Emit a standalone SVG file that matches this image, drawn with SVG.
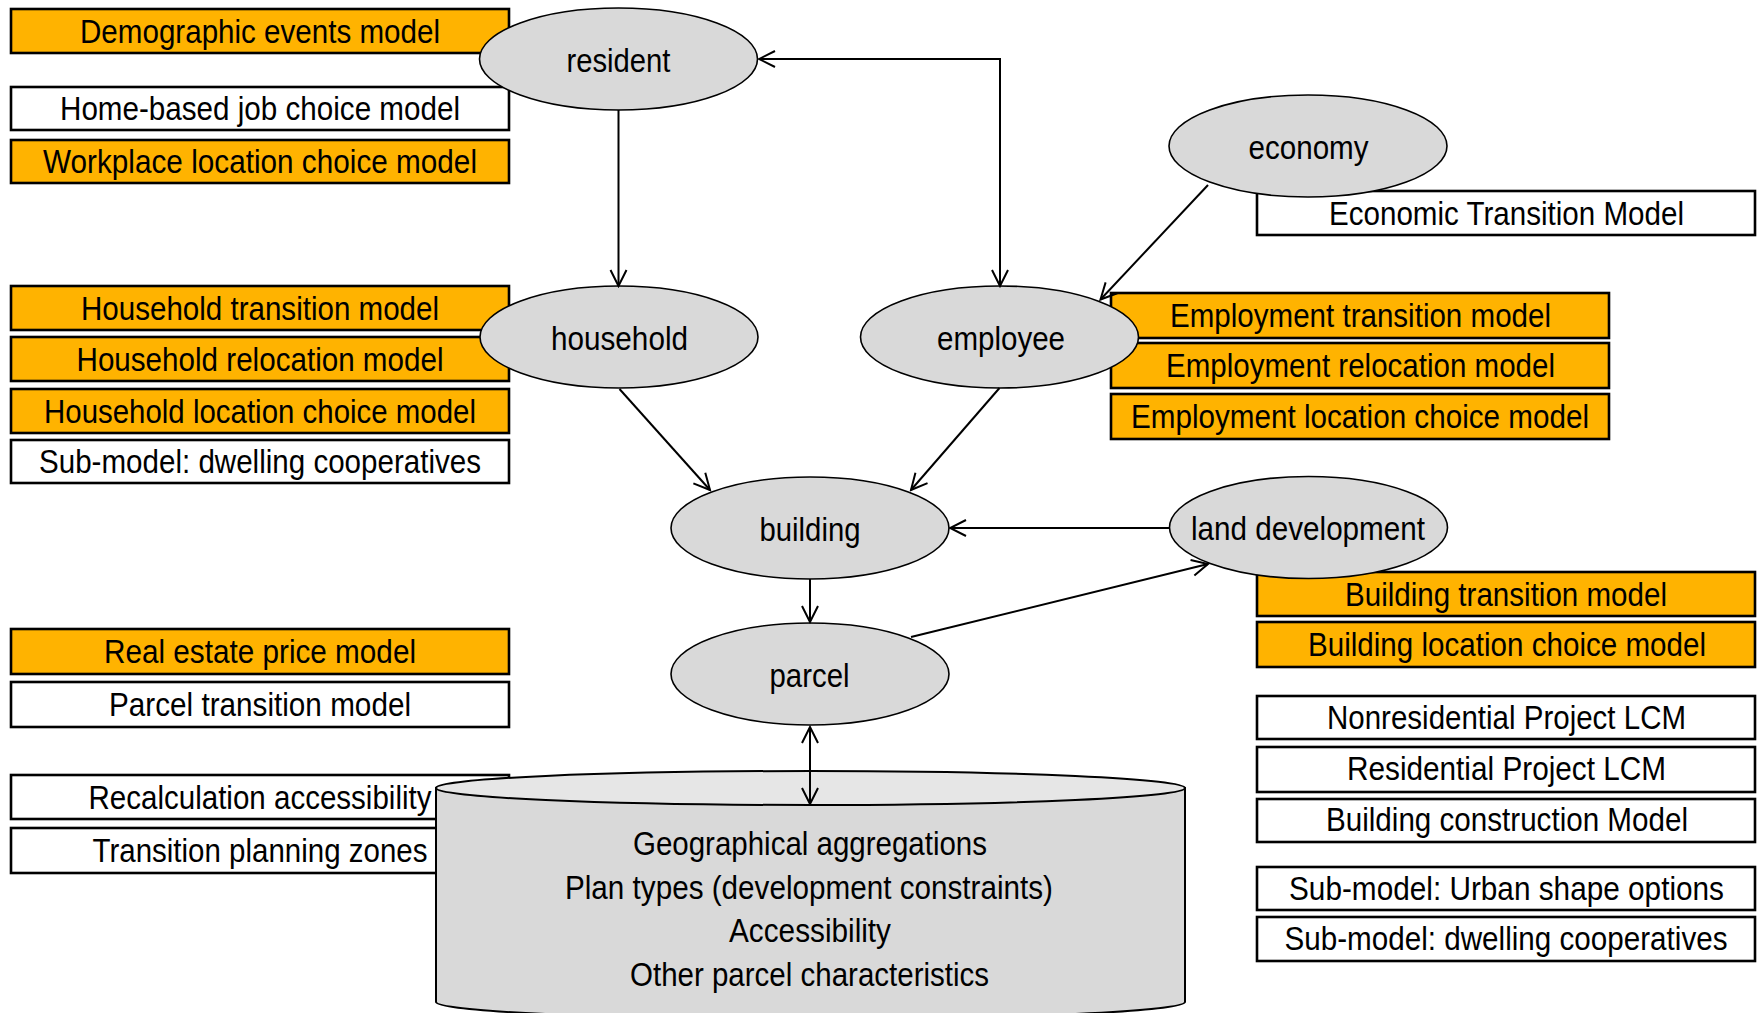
<svg xmlns="http://www.w3.org/2000/svg" width="1759" height="1013" viewBox="0 0 1759 1013">
<style>
text{font-family:"Liberation Sans",Arial,sans-serif;font-size:33px;fill:#000;text-anchor:middle}
.o{fill:#ffb300;stroke:#000;stroke-width:2.6}
.w{fill:#fff;stroke:#000;stroke-width:2.6}
.e{fill:#d9d9d9;stroke:#000;stroke-width:1.6}
.c{fill:none;stroke:#000;stroke-width:2}
</style>
<defs>
<marker id="a" markerUnits="userSpaceOnUse" viewBox="-18 -10 20 20" refX="0" refY="0" markerWidth="20" markerHeight="20" orient="auto-start-reverse">
<path d="M-16,-8 L0,0 L-16,8" fill="none" stroke="#000" stroke-width="2"/>
</marker>
</defs>
<rect width="1759" height="1013" fill="#fff"/>

<g id="boxes-left">
<g id="b-demographic"><rect class="o" x="11" y="9" width="498" height="44"/><text x="260" y="43" textLength="360" lengthAdjust="spacingAndGlyphs">Demographic events model</text></g>
<g id="b-homebased"><rect class="w" x="11" y="87" width="498" height="43"/><text x="260" y="120" textLength="400" lengthAdjust="spacingAndGlyphs">Home-based job choice model</text></g>
<g id="b-workplace"><rect class="o" x="11" y="140" width="498" height="43"/><text x="260" y="173" textLength="434" lengthAdjust="spacingAndGlyphs">Workplace location choice model</text></g>
<g id="b-hh-transition"><rect class="o" x="11" y="286" width="498" height="44"/><text x="260" y="320" textLength="358" lengthAdjust="spacingAndGlyphs">Household transition model</text></g>
<g id="b-hh-relocation"><rect class="o" x="11" y="337" width="498" height="44"/><text x="260" y="371" textLength="367" lengthAdjust="spacingAndGlyphs">Household relocation model</text></g>
<g id="b-hh-location"><rect class="o" x="11" y="389" width="498" height="44"/><text x="260" y="423" textLength="432" lengthAdjust="spacingAndGlyphs">Household location choice model</text></g>
<g id="b-dwelling-left"><rect class="w" x="11" y="440" width="498" height="43"/><text x="260" y="473" textLength="442" lengthAdjust="spacingAndGlyphs">Sub-model: dwelling cooperatives</text></g>
<g id="b-realestate"><rect class="o" x="11" y="629" width="498" height="45"/><text x="260" y="663" textLength="312" lengthAdjust="spacingAndGlyphs">Real estate price model</text></g>
<g id="b-parcel-transition"><rect class="w" x="11" y="682" width="498" height="45"/><text x="260" y="716" textLength="302" lengthAdjust="spacingAndGlyphs">Parcel transition model</text></g>
<g id="b-recalc"><rect class="w" x="11" y="775" width="498" height="44"/><text x="260" y="808.5" textLength="343" lengthAdjust="spacingAndGlyphs">Recalculation accessibility</text></g>
<g id="b-planning"><rect class="w" x="11" y="828" width="498" height="45"/><text x="260" y="862" textLength="335" lengthAdjust="spacingAndGlyphs">Transition planning zones</text></g>
</g>

<g id="boxes-right">
<g id="b-economic"><rect class="w" x="1257" y="191" width="498" height="44"/><text x="1506.5" y="225" textLength="355" lengthAdjust="spacingAndGlyphs">Economic Transition Model</text></g>
<g id="b-emp-transition"><rect class="o" x="1111" y="293" width="498" height="45"/><text x="1360.5" y="327" textLength="381" lengthAdjust="spacingAndGlyphs">Employment transition model</text></g>
<g id="b-emp-relocation"><rect class="o" x="1111" y="343" width="498" height="45"/><text x="1360.5" y="377" textLength="389" lengthAdjust="spacingAndGlyphs">Employment relocation model</text></g>
<g id="b-emp-location"><rect class="o" x="1111" y="394" width="498" height="45"/><text x="1360" y="428" textLength="458" lengthAdjust="spacingAndGlyphs">Employment location choice model</text></g>
<g id="b-bld-transition"><rect class="o" x="1257" y="572" width="498" height="44"/><text x="1506" y="605.5" textLength="322" lengthAdjust="spacingAndGlyphs">Building transition model</text></g>
<g id="b-bld-location"><rect class="o" x="1257" y="622" width="498" height="45"/><text x="1507" y="656" textLength="398" lengthAdjust="spacingAndGlyphs">Building location choice model</text></g>
<g id="b-nonres"><rect class="w" x="1257" y="696" width="498" height="43"/><text x="1506.5" y="729" textLength="359" lengthAdjust="spacingAndGlyphs">Nonresidential Project LCM</text></g>
<g id="b-res"><rect class="w" x="1257" y="747" width="498" height="45"/><text x="1506.5" y="780" textLength="319" lengthAdjust="spacingAndGlyphs">Residential Project LCM</text></g>
<g id="b-construction"><rect class="w" x="1257" y="799" width="498" height="43"/><text x="1507" y="831" textLength="362" lengthAdjust="spacingAndGlyphs">Building construction Model</text></g>
<g id="b-urban"><rect class="w" x="1257" y="867" width="498" height="43"/><text x="1506.5" y="899.5" textLength="435" lengthAdjust="spacingAndGlyphs">Sub-model: Urban shape options</text></g>
<g id="b-dwelling-right"><rect class="w" x="1257" y="917" width="498" height="44"/><text x="1506" y="950" textLength="443" lengthAdjust="spacingAndGlyphs">Sub-model: dwelling cooperatives</text></g>
</g>

<g id="n-resident"><ellipse class="e" cx="618.5" cy="59" rx="139" ry="51"/><text x="618.5" y="71.5" textLength="104" lengthAdjust="spacingAndGlyphs">resident</text></g>
<g id="n-economy"><ellipse class="e" cx="1308" cy="146" rx="139" ry="51"/><text x="1308.5" y="158.5" textLength="120" lengthAdjust="spacingAndGlyphs">economy</text></g>
<g id="n-household"><ellipse class="e" cx="619" cy="337" rx="139" ry="51"/><text x="619.5" y="349.5" textLength="137" lengthAdjust="spacingAndGlyphs">household</text></g>
<g id="n-employee"><ellipse class="e" cx="999.5" cy="337" rx="139" ry="51"/><text x="1001" y="349.5" textLength="128" lengthAdjust="spacingAndGlyphs">employee</text></g>
<g id="n-building"><ellipse class="e" cx="810" cy="528" rx="139" ry="51"/><text x="810" y="540.5" textLength="101" lengthAdjust="spacingAndGlyphs">building</text></g>
<g id="n-landdev"><ellipse class="e" cx="1308.5" cy="527.5" rx="139" ry="51"/><text x="1308" y="540" textLength="234" lengthAdjust="spacingAndGlyphs">land development</text></g>
<g id="n-parcel"><ellipse class="e" cx="810" cy="674" rx="139" ry="51"/><text x="809.5" y="686.5" textLength="80" lengthAdjust="spacingAndGlyphs">parcel</text></g>

<g id="n-database">
<path d="M436,788 L436,1002 A374.5,17 0 0 0 1185,1002 L1185,788 Z" fill="#d9d9d9" stroke="#000" stroke-width="2"/>
<ellipse cx="810.5" cy="788" rx="374.5" ry="17" fill="#e6e6e6" stroke="#000" stroke-width="2"/>
<text x="810" y="855" textLength="354" lengthAdjust="spacingAndGlyphs">Geographical aggregations</text>
<text x="809" y="898.5" textLength="488" lengthAdjust="spacingAndGlyphs">Plan types (development constraints)</text>
<text x="810" y="942" textLength="162" lengthAdjust="spacingAndGlyphs">Accessibility</text>
<text x="809.5" y="985.5" textLength="359" lengthAdjust="spacingAndGlyphs">Other parcel characteristics</text>
</g>

<g id="connectors" class="c">
<path class="c" d="M618.5,110 L618.5,286" marker-end="url(#a)"/>
<path class="c" d="M759,59 L1000,59 L1000,286" marker-start="url(#a)" marker-end="url(#a)"/>
<path class="c" d="M1208,185 L1100.5,299.5" marker-end="url(#a)"/>
<path class="c" d="M619.5,389 L710,490" marker-end="url(#a)"/>
<path class="c" d="M999.5,388 L911,490" marker-end="url(#a)"/>
<path class="c" d="M1169,528 L950,528" marker-end="url(#a)"/>
<path class="c" d="M810,579 L810,622" marker-end="url(#a)"/>
<path class="c" d="M911,637 L1208,564" marker-end="url(#a)"/>
<path class="c" d="M810,727 L810,804" marker-start="url(#a)" marker-end="url(#a)"/>
</g>
</svg>
